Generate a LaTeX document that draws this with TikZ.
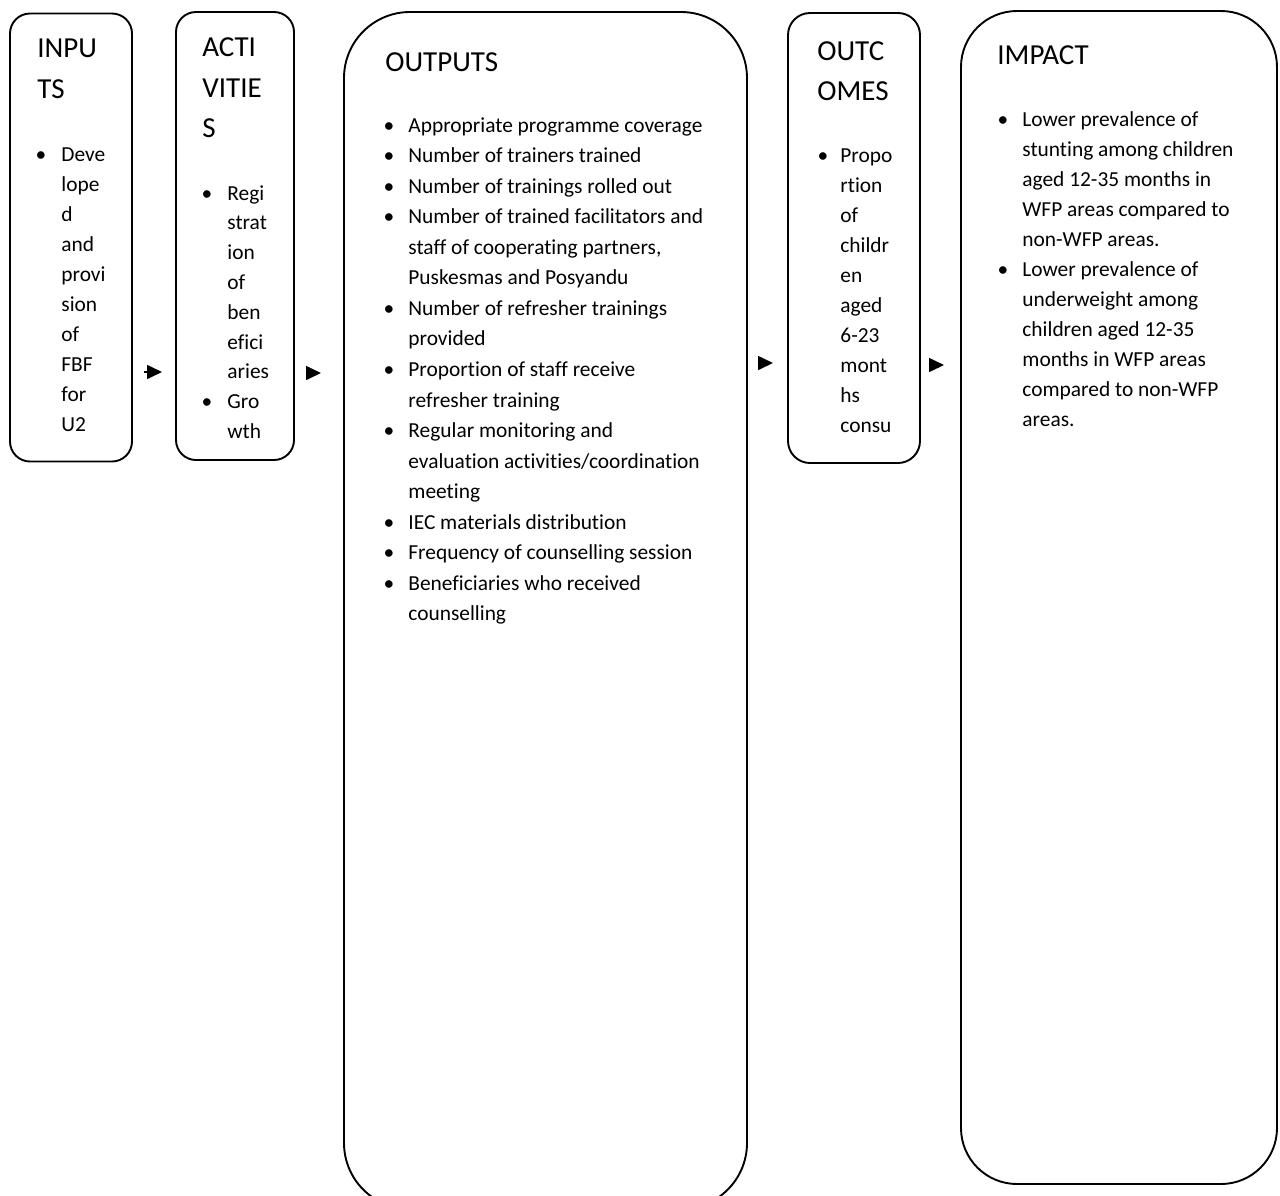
\documentclass[tikz,border=0pt]{standalone}
\usepackage{fontspec}
\setmainfont{Carlito}[Ligatures={NoCommon}]
\usetikzlibrary{arrows.meta}
\tikzset{
  box/.style={draw=black, line width=0.95pt, inner sep=0pt, outer sep=0pt},
  head/.style={font=\fontsize{14.5}{20}\selectfont, inner sep=0pt, anchor=base west},
  body/.style={font=\fontsize{10.7}{15}\selectfont, inner sep=0pt, anchor=base west},
  dot/.style={font=\fontsize{10.7}{15}\selectfont, inner sep=0pt, anchor=base},
  flow/.style={line width=0.8pt, -{Triangle[length=7.5pt,width=7pt]}},
}
\newcommand\txtlines[5]{\foreach \t [count=\i from 0] in {#5} {\node[body] (#1\i) at ({#2},{#3+#4*\i}) {\t};}}
\begin{document}
\begin{tikzpicture}[x=0.5pt,y=-0.5pt]
\useasboundingbox (0,0) rectangle (1280,1195);
\clip (0,0) rectangle (1280,1195);

% boxes
\node[box, minimum width=61pt, minimum height=224pt, rounded corners=10pt] (inputs) at (71,237.5) {};
\node[box, minimum width=59pt, minimum height=224pt, rounded corners=10pt] (activities) at (235,236) {};
\node[box, minimum width=201.5pt, minimum height=598.5pt, rounded corners=33pt] (outputs) at (545.5,610.5) {};
\node[box, minimum width=66pt, minimum height=225pt, rounded corners=11pt] (outcomes) at (854,238) {};
\node[box, minimum width=158pt, minimum height=586.5pt, rounded corners=28pt] (impact) at (1119,597.5) {};

% headings
\node[head] (hin1) at (37,57) {INPU};
\node[head] (hin2) at (37,98) {TS};
\node[head] (hac1) at (202,56) {ACTI};
\node[head] (hac2) at (202,97) {VITIE};
\node[head] (hac3) at (202,137) {S};
\node[head] (hout) at (385,71) {OUTPUTS};
\node[head] (hoc1) at (817,60) {OUTC};
\node[head] (hoc2) at (817,100) {OMES};
\node[head] (him) at (997,64) {IMPACT};

% INPUTS list
\node[dot] (bin0) at (41,161) {\textbullet};
\txtlines{tin}{61}{161}{30}{Deve,lope,d,and,provi,sion,of,FBF,for,U2}

% ACTIVITIES list
\node[dot] (bac0) at (207,200) {\textbullet};
\node[dot] (bac1) at (207,408.6) {\textbullet};
\txtlines{tac}{227}{200}{29.8}{Regi,strat,ion,of,ben,efici,aries,Gro,wth}

% OUTPUTS list
\foreach \k in {0,1,2,3,6,8,10,13,14,15} {\node[dot] (bout\k) at (389,{132+30.56*\k}) {\textbullet};}
\txtlines{tout}{408}{132}{30.56}{Appropriate programme coverage,Number of trainers trained,Number of trainings rolled out,Number of trained facilitators and,{staff of cooperating partners,},Puskesmas and Posyandu,Number of refresher trainings,provided,Proportion of staff receive,refresher training,Regular monitoring and,evaluation activities/coordination,meeting,IEC materials distribution,Frequency of counselling session,Beneficiaries who received,counselling}

% OUTCOMES list
\node[dot] (boc0) at (823,162) {\textbullet};
\txtlines{toc}{840}{162}{30}{Propo,rtion,of,childr,en,aged,6-23,mont,hs,consu}

% IMPACT list
\node[dot] (bim0) at (1003,126) {\textbullet};
\node[dot] (bim1) at (1003,276) {\textbullet};
\txtlines{tim}{1022}{126}{30}{Lower prevalence of,stunting among children,aged 12-35 months in,WFP areas compared to,non-WFP areas.,Lower prevalence of,underweight among,children aged 12-35,months in WFP areas,compared to non-WFP,areas.}

% arrows
\coordinate (a1s) at (144,372);  \coordinate (a1e) at (162,372);
\coordinate (a2s) at (305.5,373); \coordinate (a2e) at (321,373);
\coordinate (a3s) at (757.5,363); \coordinate (a3e) at (773,363);
\coordinate (a4s) at (928.5,365); \coordinate (a4e) at (944,365);
\draw[flow] (a1s) -- (a1e);
\draw[flow] (a2s) -- (a2e);
\draw[flow] (a3s) -- (a3e);
\draw[flow] (a4s) -- (a4e);
\end{tikzpicture}
\end{document}
